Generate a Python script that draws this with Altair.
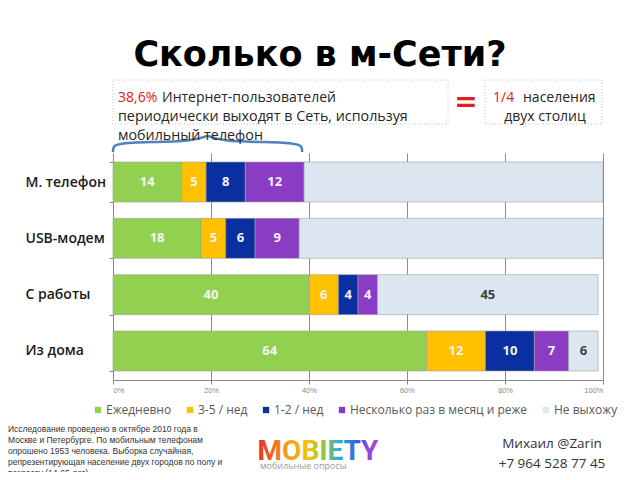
import altair as alt
import pandas as pd

# ---------------- data ----------------
categories = ["М. телефон", "USB-модем", "С работы", "Из дома"]
series = ["Ежедневно", "3-5 / нед", "1-2 / нед", "Несколько раз в месяц и реже", "Не выхожу"]
colors = ["#92D050", "#FFC000", "#0A2FA0", "#8B3CC4", "#DCE6F1"]
daily = [14, 18, 40, 64]
per_week_3_5 = [5, 5, 6, 12]
per_week_1_2 = [8, 6, 4, 10]
monthly = [12, 9, 4, 7]
never = [61, 62, 45, 6]
never_label_shown = [False, False, True, True]
x_ticks = [0, 20, 40, 60, 80, 100]
mobile_share = 38.6  # "38,6%" – span of the brace

# brace shape (x in % of axis, y in px above plot top)
brace_x = [0, 0, 1.6, 17.6, 19.3, 21.0, 37.0, 38.6, 38.6]
brace_y = [-1, -7, -11, -11, -20, -11, -11, -7, -1]

values_by_series = [daily, per_week_3_5, per_week_1_2, monthly, never]
rows = []
for si, (s, vals) in enumerate(zip(series, values_by_series)):
    for ci, c in enumerate(categories):
        show = True if si < 4 else never_label_shown[ci]
        rows.append({"category": c, "series": s, "value": vals[ci], "order": si, "show": show})
df = pd.DataFrame(rows)

# ---------------- main bars ----------------
y_enc = alt.Y(
    "category:N", sort=categories, title=None,
    scale=alt.Scale(paddingInner=0.29, paddingOuter=0.16),
    axis=alt.Axis(labelAlign="left", labelPadding=84, tickSize=4, tickColor="#888888",
                  tickBand="extent", domainColor="#888888", labelFont="Open Sans",
                  labelFontWeight=600, labelFontSize=14, labelColor="#1a1a1a"),
)
x_scale = alt.Scale(domain=[0, 100], nice=False)
x_axis = alt.Axis(values=x_ticks, labelExpr="datum.value + '%'", grid=True,
                  gridColor="#8c8c8c", gridWidth=1, domainColor="#888888",
                  tickColor="#888888", tickSize=4, labelFontSize=7.5,
                  labelColor="#8a8a8a", labelPadding=2, labelFont="Liberation Sans")

base = alt.Chart(df).transform_stack(
    stack="value", groupby=["category"],
    sort=[alt.SortField(field="order", order="ascending")], as_=["x0", "x1"])

bars = base.mark_bar(stroke="#a0a0a0", strokeWidth=0.6).encode(
    y=y_enc,
    x=alt.X("x0:Q", scale=x_scale, axis=x_axis, title=None),
    x2="x1:Q",
    color=alt.Color("series:N", sort=series,
                    scale=alt.Scale(domain=series, range=colors),
                    legend=alt.Legend(orient="none", legendX=-21, legendY=251,
                                      direction="horizontal", columns=5, title=None,
                                      symbolType="square", symbolSize=40,
                                      symbolStrokeWidth=0, labelFontSize=12,
                                      labelColor="#595959", labelFont="Open Sans",
                                      labelLimit=0, columnPadding=12, labelOffset=2)),
)

labels = base.transform_calculate(mid="(datum.x0 + datum.x1) / 2").transform_filter(
    "datum.show").mark_text(font="Open Sans", fontWeight="bold", fontSize=13).encode(
    y=y_enc,
    x=alt.X("mid:Q", scale=x_scale, axis=x_axis, title=None),
    text="value:Q",
    color=alt.condition(alt.datum.series == "Не выхожу", alt.value("#404040"), alt.value("#F4F4F4")),
)

main = alt.layer(bars, labels)

# ---------------- annotations ----------------
def txt(s, x, y, **kw):
    return alt.Chart(pd.DataFrame({"t": [s]})).mark_text(**kw).encode(
        x=alt.value(x), y=alt.value(y), text="t:N")

def box(x1, x2, y1, y2):
    return alt.Chart(pd.DataFrame({"t": [0]})).mark_rect(
        fill="white", stroke="#b0b0b0", strokeWidth=0.8, strokeDash=[1, 2]).encode(
        x=alt.value(x1), x2=alt.value(x2), y=alt.value(y1), y2=alt.value(y2))

RED = "#E0201B"
DARK = "#262626"
F = "Open Sans"
FN = "Liberation Sans"

ann = [
    box(0, 335, -73, -29),
    box(372, 489, -73, -29),
    txt("Сколько в м-Сети?", 207, -98, font="DejaVu Sans", fontWeight="bold",
        fontSize=35, align="center", color="#000000"),
    txt("38,6%", 5, -55, font=F, fontSize=14, align="left", color=RED),
    txt("Интернет-пользователей", 49, -55, font=F, fontSize=14, align="left", color=DARK),
    txt("периодически выходят в Сеть, используя", 5, -36, font=F, fontSize=14.3, align="left", color=DARK),
    txt("мобильный телефон", 5, -17, font=F, fontSize=14.3, align="left", color=DARK),
    txt("=", 353, -50, font="DejaVu Sans", fontWeight="bold", fontSize=28,
        align="center", baseline="middle", color=RED),
    txt("1/4", 380, -55, font=F, fontSize=14, align="left", color=RED),
    txt("населения", 410, -55, font=F, fontSize=14, align="left", color=DARK),
    txt("двух столиц", 432, -36, font=F, fontSize=14, align="center", color=DARK),
    # footer
    txt("Исследование проведено в октябре 2010 года в", -105, 276, font=FN, fontSize=8.5, align="left", color="#333333"),
    txt("Москве и Петербурге. По мобильным телефонам", -105, 287, font=FN, fontSize=8.5, align="left", color="#333333"),
    txt("опрошено 1953 человека. Выборка случайная,", -105, 298, font=FN, fontSize=8.5, align="left", color="#333333"),
    txt("репрезентирующая население двух городов по полу и", -105, 309, font=FN, fontSize=8.5, align="left", color="#333333"),
    txt("возрасту (14-65 лет).", -105, 320, font=FN, fontSize=8.5, align="left", color="#333333"),
    txt("MOBIETY", 205, 299, font="Roboto", fontWeight="bold", fontSize=28, align="center",
        color=alt.Gradient(gradient="linear", x1=0, x2=1, y1=0, y2=0, stops=[
            alt.GradientStop(offset=0.0, color="#E8302A"),
            alt.GradientStop(offset=0.22, color="#F7941D"),
            alt.GradientStop(offset=0.42, color="#F4C20D"),
            alt.GradientStop(offset=0.55, color="#8CC63F"),
            alt.GradientStop(offset=0.68, color="#29ABE2"),
            alt.GradientStop(offset=0.82, color="#3B5BDB"),
            alt.GradientStop(offset=1.0, color="#C63CD6")])),
    txt("мобильные опросы", 147, 313, font=F, fontSize=9, align="left", color="#9a9a9a"),
    txt("Михаил @Zarin", 439, 291, font=F, fontSize=13.5, align="center", color="#333333"),
    txt("+7 964 528 77 45", 439, 311, font=F, fontSize=13.5, align="center", color="#333333"),
]

brace = alt.Chart(pd.DataFrame({"bx": brace_x, "by": brace_y, "i": list(range(len(brace_x)))})).mark_line(
    color="#4F81BD", strokeWidth=2.5, interpolate="basis").encode(
    x=alt.X("bx:Q", scale=alt.Scale(domain=[0, 100], nice=False), axis=None),
    y=alt.Y("by:Q", scale=alt.Scale(domain=[0, 100], range=[0, 100], nice=False, zero=False), axis=None),
    order="i:Q",
)

chart = alt.layer(*ann[:2], main, brace, *ann[2:]).resolve_scale(
    x="independent", y="independent").properties(
    width=490, height=227,
    padding={"left": 105, "top": 145, "right": 29, "bottom": 92},
    autosize=alt.AutoSizeParams(type="none"),
    background="white",
).configure_view(stroke=None)

chart.save("out.html", embed_options={"renderer": "svg", "actions": False})
